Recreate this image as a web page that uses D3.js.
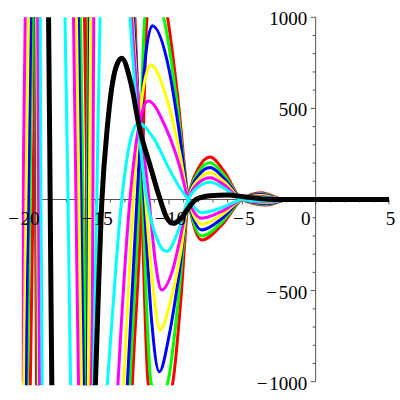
<!DOCTYPE html>
<html>
<head>
<meta charset="utf-8">
<script src="https://cdn.jsdelivr.net/npm/d3@7"></script>
<style>
  body { margin: 0; background: #fff; }
  svg { display: block; }
</style>
</head>
<body>
<svg width="400" height="400"></svg>
<script>
// tick labels
var xTicks = [-20, -15, -10, -5, 0, 5];
var yTicks = [-1000, -500, 500, 1000];

// curves, [x, y]
// "up" curves: positive hump near x=-7.2, "down" curves: negative hump near x=-7.8
var upRed = [[-20, 4000], [-19.3, 1500], [-19.17, 1000], [-19.1, 0], [-19.03, -1000], [-17.4, -5000], [-15.7, -1000], [-15.62, 0], [-15.54, 1000], [-14, 4500], [-12.32, 1000], [-11.87, 0], [-11.43, -1000], [-10.75, -1250], [-9.73, -1000], [-9.2, -560], [-8.68, 0], [-8.0, 170], [-7.2, 233], [-6.2, 150], [-5.04, 0], [-3.3, -30], [-1.9, 0], [-0.9, 3], [0, 0], [5, 0]];
var upGreen = [[-20, 4000], [-19.3, 1500], [-19.1, 1000], [-19.03, 0], [-18.96, -1000], [-17.4, -5000], [-15.64, -1000], [-15.56, 0], [-15.48, 1000], [-14, 4200], [-12.39, 1000], [-11.81, 0], [-11.23, -1000], [-10.7, -1100], [-10.07, -1000], [-9.4, -580], [-8.68, 0], [-8.0, 150], [-7.2, 202], [-6.2, 130], [-5.04, 0], [-3.3, -26], [-1.9, 0], [-0.9, 3], [0, 0], [5, 0]];
var upBlue = [[-20, 4000], [-19.3, 1500], [-19.07, 1000], [-19.0, 0], [-18.93, -1000], [-17.4, -5000], [-15.57, -1000], [-15.49, 0], [-15.41, 1000], [-14, 4000], [-12.42, 1000], [-11.7, 0], [-11.2, -650], [-10.66, -945], [-10.0, -750], [-9.3, -400], [-8.68, 0], [-8.0, 130], [-7.2, 175], [-6.2, 112], [-5.04, 0], [-3.3, -22], [-1.9, 0], [-0.9, 2], [0, 0], [5, 0]];
var upYellow = [[-20, 4000], [-19.2, 1500], [-19.02, 1000], [-18.96, 0], [-18.9, -1000], [-17.4, -5000], [-15.5, -1000], [-15.42, 0], [-15.34, 1000], [-14, 3800], [-12.49, 1000], [-11.6, 0], [-11.1, -480], [-10.61, -716], [-9.9, -560], [-9.2, -290], [-8.68, 0], [-8.0, 110], [-7.2, 147], [-6.2, 95], [-5.04, 0], [-3.3, -18], [-1.9, 0], [-0.9, 2], [0, 0], [5, 0]];
var upMagenta = [[-20, 4000], [-19.2, 1500], [-18.95, 1000], [-18.89, 0], [-18.83, -1000], [-17.2, -5000], [-15.25, -1000], [-15.19, 0], [-15.13, 1000], [-13.8, 3500], [-12.55, 1000], [-11.36, 0], [-10.9, -360], [-10.5, -497], [-9.8, -400], [-9.2, -200], [-8.68, 0], [-8.0, 90], [-7.2, 120], [-6.2, 78], [-5.04, 0], [-3.3, -14], [-1.9, 0], [-0.9, 1], [0, 0], [5, 0]];
var upCyan = [[-20, 4000], [-19.1, 1500], [-18.78, 1000], [-18.73, 0], [-18.64, -1000], [-16.9, -5000], [-15.15, -1000], [-14.92, 0], [-14.7, 1000], [-13.6, 2500], [-12.66, 1000], [-11.5, 0], [-10.8, -220], [-10.16, -286], [-9.4, -180], [-8.68, 0], [-8.0, 70], [-7.2, 94], [-6.2, 60], [-5.04, 0], [-3.3, -10], [-1.9, 0], [-0.9, 1], [0, 0], [5, 0]];

var downRed = [[-20, -5000], [-19.45, -1000], [-19.27, 0], [-19.1, 1000], [-17.4, 5000], [-15.76, 1000], [-15.59, 0], [-15.42, -1000], [-14, -4500], [-12.49, -1000], [-11.87, 0], [-11.5, 1000], [-10.9, 1250], [-10.1, 1000], [-9.4, 560], [-8.68, 0], [-7.77, -222], [-6.4, -140], [-5.04, 0], [-3.7, 37], [-2.2, 0], [-1.0, -3], [0, 0], [5, 0]];
var downGreen = [[-20, -5000], [-19.65, -1000], [-19.48, 0], [-19.31, 1000], [-17.6, 5000], [-16.03, 1000], [-15.86, 0], [-15.69, -1000], [-14.2, -4200], [-12.66, -1000], [-12.05, 0], [-11.64, 1000], [-11.0, 1100], [-10.37, 1000], [-9.5, 560], [-8.68, 0], [-7.77, -200], [-6.4, -125], [-5.04, 0], [-3.7, 32], [-2.2, 0], [-1.0, -3], [0, 0], [5, 0]];
var downBlue = [[-20, -5000], [-19.75, -1000], [-19.58, 0], [-19.41, 1000], [-17.8, 5000], [-16.17, 1000], [-16.0, 0], [-15.83, -1000], [-14.4, -4000], [-12.83, -1000], [-12.18, 0], [-11.7, 700], [-11.14, 954], [-10.0, 715], [-9.3, 370], [-8.68, 0], [-7.77, -167], [-6.4, -105], [-5.04, 0], [-3.7, 27], [-2.2, 0], [-1.0, -2], [0, 0], [5, 0]];
var downYellow = [[-20, -5000], [-19.92, -1000], [-19.75, 0], [-19.58, 1000], [-17.9, 5000], [-16.31, 1000], [-16.14, 0], [-15.97, -1000], [-14.5, -3800], [-13.07, -1000], [-12.42, 0], [-11.9, 520], [-11.25, 738], [-10.1, 540], [-9.3, 270], [-8.68, 0], [-7.77, -136], [-6.4, -85], [-5.04, 0], [-3.7, 22], [-2.2, 0], [-1.0, -2], [0, 0], [5, 0]];
var downMagenta = [[-20.1, -1000], [-19.95, 0], [-19.8, 1000], [-18.1, 5000], [-16.51, 1000], [-16.34, 0], [-16.17, -1000], [-14.8, -3500], [-13.47, -1000], [-12.66, 0], [-12.1, 380], [-11.41, 540], [-10.2, 390], [-9.3, 190], [-8.68, 0], [-7.77, -103], [-6.4, -65], [-5.04, 0], [-3.7, 17], [-2.2, 0], [-1.0, -1], [0, 0], [5, 0]];
var downCyan = [[-20, 2500], [-18.5, 4000], [-17.09, 1000], [-16.88, 0], [-16.71, -1000], [-15.6, -2500], [-14.19, -1000], [-13.22, 0], [-12.7, 300], [-12.09, 418], [-11.0, 330], [-10.0, 170], [-9.3, 70], [-8.68, 0], [-7.77, -72], [-6.4, -45], [-5.04, 0], [-3.7, 12], [-2.2, 0], [-1.0, -1], [0, 0], [5, 0]];

var blackCurve = [[-20, 6000], [-18.9, 3000], [-18.21, 1000], [-18.1, 0], [-17.99, -1000], [-16.5, -5000], [-15.01, -1000], [-14.57, 0], [-14.2, 400], [-13.85, 640], [-13.5, 750], [-13.22, 775], [-12.6, 640], [-11.98, 381], [-11.3, 190], [-10.6, 0], [-10.15, -100], [-9.71, -131], [-9.2, -105], [-8.7, -50], [-8.16, 0], [-7.2, 20], [-6.0, 25], [-4.8, 14], [-3.5, 3], [-2, 0], [5, 0]];

var series = [
  { color: "#ff0000", pts: upRed }, { color: "#ff0000", pts: downRed },
  { color: "#00ff00", pts: upGreen }, { color: "#00ff00", pts: downGreen },
  { color: "#0000ff", pts: upBlue }, { color: "#0000ff", pts: downBlue },
  { color: "#ffff00", pts: upYellow }, { color: "#ffff00", pts: downYellow },
  { color: "#ff00ff", pts: upMagenta }, { color: "#ff00ff", pts: downMagenta },
  { color: "#00ffff", pts: upCyan }, { color: "#00ffff", pts: downCyan }
];

var svg = d3.select("svg");
var x = d3.scaleLinear().domain([-20, 5]).range([22.3, 389]);
var y = d3.scaleLinear().domain([-1000, 1000]).range([381.7, 17.3]);

svg.append("defs").append("clipPath").attr("id", "plotclip")
  .append("rect")
  .attr("x", x(-20) - 0.5).attr("y", y(1000))
  .attr("width", x(5) - x(-20) + 1).attr("height", y(-1000) - y(1000) + 3.5);

var line = d3.line()
  .x(function(d) { return x(d[0]); })
  .y(function(d) { return y(d[1]); })
  .curve(d3.curveMonotoneX);

var axisColor = "#555";

// x axis along y = 0
var gx = svg.append("g");
gx.append("line")
  .attr("x1", x(-20)).attr("x2", x(5))
  .attr("y1", y(0)).attr("y2", y(0))
  .attr("stroke", axisColor).attr("stroke-width", 1);
gx.selectAll(".xt").data(d3.range(-20, 6, 1)).enter().append("line")
  .attr("x1", function(d) { return x(d); }).attr("x2", function(d) { return x(d); })
  .attr("y1", y(0)).attr("y2", function(d) { return y(0) + (d % 5 == 0 ? 5 : 3); })
  .attr("stroke", axisColor);

// y axis along x = 0
var gy = svg.append("g");
gy.append("line")
  .attr("x1", x(0)).attr("x2", x(0))
  .attr("y1", y(1000)).attr("y2", y(-1000))
  .attr("stroke", axisColor).attr("stroke-width", 1);
gy.selectAll(".yt").data(d3.range(-1000, 1001, 100)).enter().append("line")
  .attr("y1", function(d) { return y(d); }).attr("y2", function(d) { return y(d); })
  .attr("x1", x(0)).attr("x2", function(d) { return x(0) - (d % 500 == 0 ? 5 : 3); })
  .attr("stroke", axisColor);

// curves
var plot = svg.append("g").attr("clip-path", "url(#plotclip)");
plot.selectAll(".curve").data(series).enter().append("path")
  .attr("class", "curve")
  .attr("d", function(d) { return line(d.pts); })
  .attr("fill", "none")
  .attr("stroke", function(d) { return d.color; })
  .attr("stroke-width", 3);
plot.append("path")
  .attr("d", line(blackCurve))
  .attr("fill", "none")
  .attr("stroke", "#000")
  .attr("stroke-width", 5);

function fmt(v) { return v < 0 ? "\u2212\u200A" + Math.abs(v) : String(v); }

svg.selectAll(".xl").data(xTicks).enter().append("text")
  .attr("x", function(d) { return d == 0 ? x(0) - 10 : x(d) + 1.5; })
  .attr("y", 225)
  .attr("text-anchor", "middle")
  .attr("font-family", "Liberation Serif, Times New Roman, serif")
  .attr("font-size", "19px")
  .text(fmt);

svg.selectAll(".yl").data(yTicks).enter().append("text")
  .attr("x", x(0) - 8.5)
  .attr("y", function(d) { return y(d) + 8; })
  .attr("text-anchor", "end")
  .attr("font-family", "Liberation Serif, Times New Roman, serif")
  .attr("font-size", "19px")
  .text(fmt);
</script>
</body>
</html>
